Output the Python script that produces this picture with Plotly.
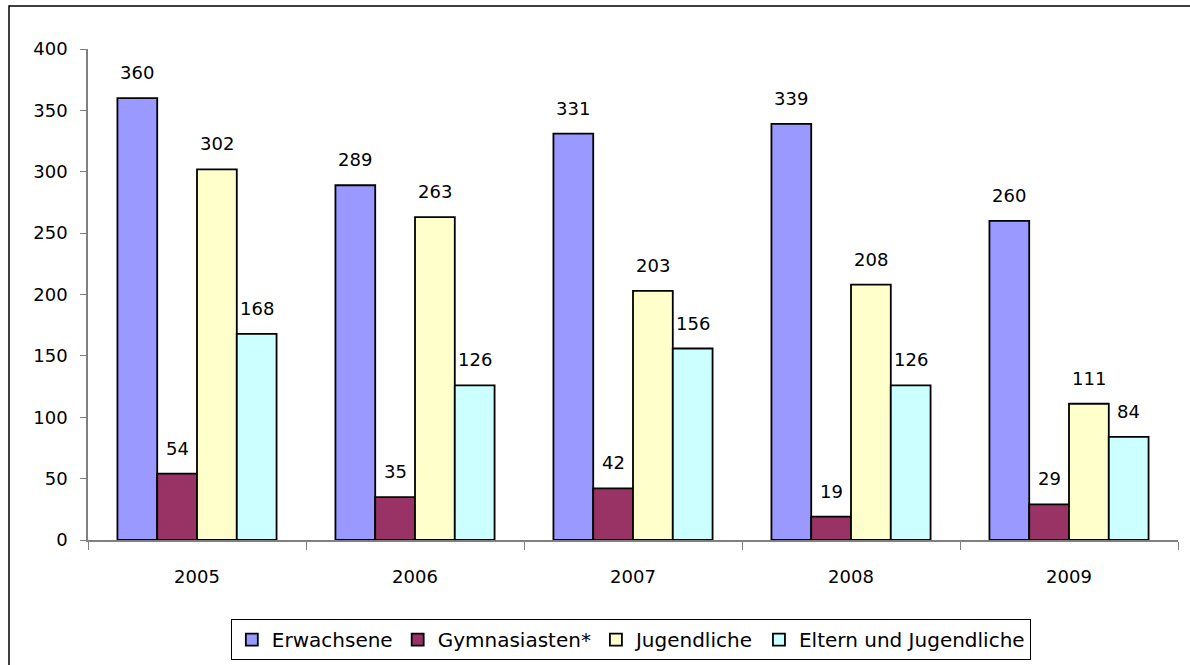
import plotly.graph_objects as go

years = ["2005", "2006", "2007", "2008", "2009"]
series_names = ["Erwachsene", "Gymnasiasten*", "Jugendliche", "Eltern und Jugendliche"]
erwachsene = [360, 289, 331, 339, 260]
gymnasiasten = [54, 35, 42, 19, 29]
jugendliche = [302, 263, 203, 208, 111]
eltern = [168, 126, 156, 126, 84]
colors = ["#9999FF", "#993366", "#FFFFCC", "#CCFFFF"]
y_ticks = [0, 50, 100, 150, 200, 250, 300, 350, 400]

values = [erwachsene, gymnasiasten, jugendliche, eltern]

W, H = 1190, 665
ML, MR, MT, MB = 88, 12, 49, 125
BARGAP = 0.27
plot_w = W - ML - MR
bar_px = plot_w / len(years) * (1 - BARGAP) / len(series_names)

fig = go.Figure()
annotations = []
for i, (name, vals, col) in enumerate(zip(series_names, values, colors)):
    fig.add_trace(go.Bar(
        x=years, y=vals, name=name,
        marker=dict(color=col, line=dict(color="black", width=1.8)),
    ))
    for j, v in enumerate(vals):
        annotations.append(dict(
            x=j, y=v, xref="x", yref="y", text=str(v), showarrow=False,
            xanchor="center", yanchor="bottom",
            xshift=(i - (len(series_names) - 1) / 2) * bar_px, yshift=13,
            font=dict(family="DejaVu Sans", size=18, color="black"),
        ))

fig.update_layout(
    width=W, height=H,
    margin=dict(l=ML, r=MR, t=MT, b=MB, autoexpand=False),
    paper_bgcolor="white", plot_bgcolor="white",
    barmode="group", bargap=BARGAP, bargroupgap=0,
    font=dict(family="DejaVu Sans", size=18, color="black"),
    showlegend=True,
    legend=dict(
        orientation="h", x=0.498, xanchor="center", y=-0.161, yanchor="top",
        bordercolor="black", borderwidth=1,
        font=dict(family="DejaVu Sans", size=20),
        itemwidth=30, tracegroupgap=0,
    ),
    xaxis=dict(
        type="category", tickson="boundaries", ticks="outside", ticklen=8,
        tickcolor="#808080", showline=True, linecolor="#808080", linewidth=1.5,
        showgrid=False, tickfont=dict(size=18), ticklabelstandoff=20,
        automargin=False, range=[-0.5, len(years) - 0.5], tickangle=0,
    ),
    yaxis=dict(
        range=[0, 400], tickvals=y_ticks, ticks="outside", ticklen=6,
        tickcolor="#808080", showline=True, linecolor="#808080", linewidth=1.5,
        showgrid=False, zeroline=False, tickfont=dict(size=18),
        ticklabelstandoff=9, automargin=False,
    ),
    annotations=annotations,
    shapes=[dict(
        type="rect", xref="paper", yref="paper",
        x0=(9 - ML) / plot_w, x1=1.3, y0=-0.4, y1=1 + (MT - 6) / (H - MT - MB),
        line=dict(color="black", width=1.5), fillcolor="rgba(0,0,0,0)",
        layer="below",
    )],
)

fig.write_html(
    "out.html",
    config={"displayModeBar": False},
    post_script="document.body.style.margin='0';document.body.style.overflow='hidden';",
)
